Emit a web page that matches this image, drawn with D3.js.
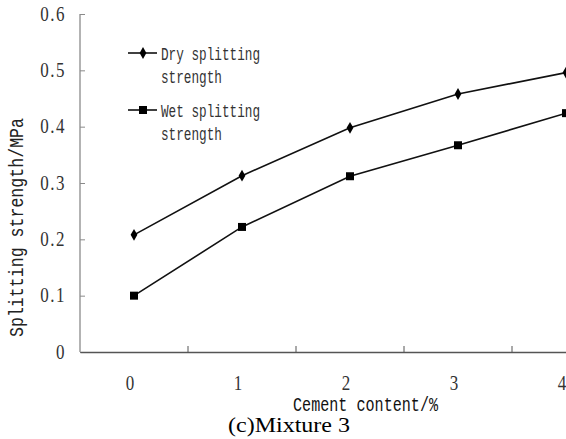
<!DOCTYPE html>
<html>
<head>
<meta charset="utf-8">
<script src="https://cdn.jsdelivr.net/npm/d3@7"></script>
<style>
body { margin: 0; background: #fff; }
svg { display: block; }
</style>
</head>
<body>
<div id="chart"></div>
<script>
// values
var categories = ["0", "1", "2", "3", "4"];
var dryValues = [0.208, 0.313, 0.398, 0.458, 0.496];
var wetValues = [0.100, 0.222, 0.312, 0.367, 0.424];
var yTicks = [0, 0.1, 0.2, 0.3, 0.4, 0.5, 0.6];
var seriesNames = [["Dry splitting", "strength"], ["Wet splitting", "strength"]];

var pwidth = 566, pheight = 439;
var margin = {top: 14, left: 80, bottom: 87};
var height = pheight - margin.top - margin.bottom;

var svg = d3.select("#chart").append("svg")
    .attr("width", pwidth)
    .attr("height", pheight);

var g = svg.append("g")
    .attr("transform", "translate(" + margin.left + "," + margin.top + ")");

// band scale: last category sits right on the edge of the picture
var xScale = d3.scaleBand()
    .domain(categories)
    .range([0, 540]);

var yScale = d3.scaleLinear()
    .domain([0, 0.6])
    .range([height, 0]);

var labelFont = "'Liberation Serif', serif";
var monoFont = "'Liberation Mono', monospace";

// y axis, ticks point inward
var yAxis = g.append("g")
    .call(d3.axisRight(yScale).tickValues(yTicks).tickSize(5)
        .tickFormat(function(d) { return d === 0 ? "0" : d3.format(".1f")(d); }));
yAxis.attr("font-family", null).attr("font-size", null);
yAxis.select(".domain").attr("stroke", "#8a8a8a").attr("stroke-width", 1.3).attr("d", "M0,0V" + height);
yAxis.selectAll(".tick line").attr("stroke", "#8a8a8a");
yAxis.selectAll(".tick text")
    .attr("x", -14)
    .attr("dy", "0.3em")
    .attr("text-anchor", "end")
    .attr("transform", "scale(1,1.2)")
    .style("font-family", labelFont)
    .style("font-size", "17px")
    .style("letter-spacing", "1.5px")
    .attr("fill", "#333");

// x axis
var xAxis = g.append("g")
    .attr("transform", "translate(0," + height + ")")
    .call(d3.axisBottom(xScale).tickSize(0));
xAxis.attr("font-family", null).attr("font-size", null);
xAxis.select(".domain").attr("stroke", "#555").attr("stroke-width", 1.5);
xAxis.selectAll(".tick text")
    .attr("dx", -4)
    .attr("y", 20)
    .attr("transform", "scale(1,1.2)")
    .style("font-family", labelFont)
    .style("font-size", "17px")
    .attr("fill", "#333");
// tick marks between bands, pointing up
var bounds = categories.slice(1).map(function(c) { return xScale(c); });
g.selectAll(".xsep").data(bounds).enter().append("line")
    .attr("x1", function(d) { return d; })
    .attr("x2", function(d) { return d; })
    .attr("y1", height)
    .attr("y2", height - 6)
    .attr("stroke", "#555");

// lines
var line = d3.line()
    .x(function(d, i) { return xScale(categories[i]) + xScale.bandwidth() / 2; })
    .y(function(d) { return yScale(d); });

g.append("path").datum(dryValues)
    .attr("fill", "none").attr("stroke", "#111").attr("stroke-width", 1.6)
    .attr("d", line);
g.append("path").datum(wetValues)
    .attr("fill", "none").attr("stroke", "#111").attr("stroke-width", 1.6)
    .attr("d", line);

var diamond = d3.symbol().type(d3.symbolDiamond).size(40);
var square = d3.symbol().type(d3.symbolSquare).size(64);

g.selectAll(".dry").data(dryValues).enter().append("path")
    .attr("d", diamond)
    .attr("transform", function(d, i) { return "translate(" + (xScale(categories[i]) + xScale.bandwidth() / 2) + "," + yScale(d) + ")"; })
    .attr("fill", "#000");
g.selectAll(".wet").data(wetValues).enter().append("path")
    .attr("d", square)
    .attr("transform", function(d, i) { return "translate(" + (xScale(categories[i]) + xScale.bandwidth() / 2) + "," + yScale(d) + ")"; })
    .attr("fill", "#000");

// legend
var legendY = [53, 110];
var legendSymbols = [diamond, square];
legendY.forEach(function(ly, k) {
    svg.append("line")
        .attr("x1", 128).attr("x2", 157)
        .attr("y1", ly).attr("y2", ly)
        .attr("stroke", "#111").attr("stroke-width", 1.6);
    svg.append("path")
        .attr("d", legendSymbols[k])
        .attr("transform", "translate(143," + ly + ")")
        .attr("fill", "#000");
    svg.append("text")
        .attr("x", 161).attr("y", ly + 7)
        .attr("font-family", monoFont).attr("font-size", 18)
        .attr("textLength", 99).attr("lengthAdjust", "spacingAndGlyphs")
        .attr("fill", "#333")
        .text(seriesNames[k][0]);
    svg.append("text")
        .attr("x", 161).attr("y", ly + 30)
        .attr("font-family", monoFont).attr("font-size", 18)
        .attr("textLength", 61).attr("lengthAdjust", "spacingAndGlyphs")
        .attr("fill", "#333")
        .text(seriesNames[k][1]);
});

// axis titles
svg.append("text")
    .attr("x", 293).attr("y", 411)
    .attr("font-family", monoFont).attr("font-size", 20)
    .attr("textLength", 145).attr("lengthAdjust", "spacingAndGlyphs")
    .attr("fill", "#111")
    .text("Cement content/%");

svg.append("text")
    .attr("transform", "translate(23,337) rotate(-90)")
    .attr("font-family", monoFont).attr("font-size", 20)
    .attr("textLength", 219).attr("lengthAdjust", "spacingAndGlyphs")
    .attr("fill", "#222")
    .text("Splitting strength/MPa");

// caption
svg.append("text")
    .attr("x", 228).attr("y", 432)
    .attr("font-family", labelFont).attr("font-size", 21)
    .attr("textLength", 122).attr("lengthAdjust", "spacingAndGlyphs")
    .attr("fill", "#000")
    .text("(c)Mixture 3");
</script>
</body>
</html>
